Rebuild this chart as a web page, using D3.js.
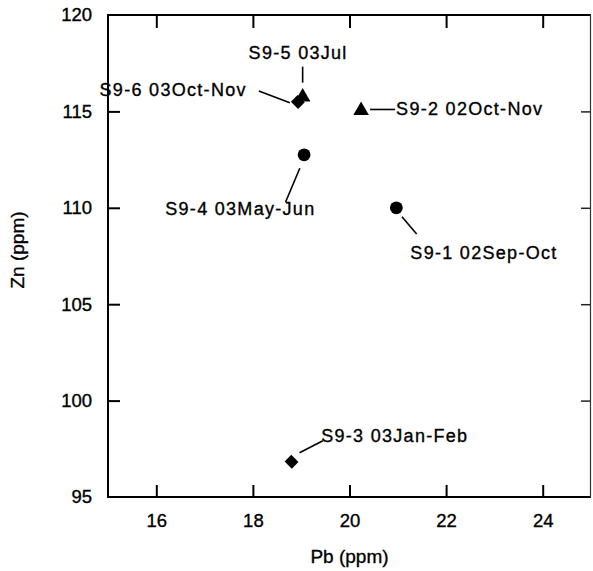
<!DOCTYPE html>
<html>
<head>
<meta charset="utf-8">
<script src="https://cdn.jsdelivr.net/npm/d3@7"></script>
<style>
  html, body { margin: 0; padding: 0; background: #fff; }
  svg { display: block; }
  text { font-family: "Liberation Sans", Arial, Helvetica, sans-serif; fill: #000; stroke: #000; stroke-width: 0.35px; }
</style>
</head>
<body>
<svg id="chart" width="593" height="571"></svg>
<script>
// ---- data ----
const samples = ["S9-1 02Sep-Oct", "S9-2 02Oct-Nov", "S9-3 03Jan-Feb", "S9-4 03May-Jun", "S9-5 03Jul", "S9-6 03Oct-Nov"];
const pb = [20.97, 20.24, 18.80, 19.06, 19.03, 18.93];
const zn = [110.0, 115.1, 96.83, 112.75, 115.8, 115.49];
const shapes = ["circle", "triangle", "diamond", "circle", "triangle", "diamond"];
const xTicks = [16, 18, 20, 22, 24];
const yTicks = [95, 100, 105, 110, 115, 120];

// ---- annotation layout (offsets from the point, px) ----
const labelLayout = [
  { line: [5.6, 8.9, 20.3, 26.2], tx: 14, ty: 51.5, anchor: "start" },
  { line: [9, 0, 34, 0], tx: 35, ty: 5.5, anchor: "start" },
  { line: [8, -9, 31.3, -21], tx: 29.6, ty: -20, anchor: "start" },
  { line: [-4.3, 13.5, -18.6, 47.5], tx: 11.4, ty: 60.6, anchor: "end" },
  { line: [0, -29.3, 0, -13.3], tx: -4.5, ty: -36.7, anchor: "middle" },
  { line: [-39, -11, -8, 0.7], tx: -51, ty: -6.3, anchor: "end" }
];

const svg = d3.select("#chart");
const x = d3.scaleLinear().domain([15, 25]).range([108, 591]);
const y = d3.scaleLinear().domain([95, 120]).range([497, 15]);

// axes
const gx = svg.append("g").attr("transform", `translate(0,${y(95)})`)
  .call(d3.axisBottom(x).tickValues(xTicks).tickSize(-12).tickPadding(17).tickSizeOuter(0));
const gy = svg.append("g").attr("transform", `translate(${x(15)},0)`)
  .call(d3.axisLeft(y).tickValues(yTicks).tickSize(-12).tickPadding(16).tickSizeOuter(0));
[gx, gy].forEach(g => {
  g.select(".domain").remove();
  g.selectAll(".tick line").attr("stroke", "#000").attr("stroke-width", 2);
  g.selectAll(".tick text").style("font-size", "18.5px").attr("fill", "#000");
});
gy.selectAll(".tick").filter(d => d === 95 || d === 120).select("line").remove();

// top & right ticks
const gt = svg.append("g").attr("transform", `translate(0,${y(120)})`)
  .call(d3.axisTop(x).tickValues(xTicks).tickSize(-13).tickFormat("").tickSizeOuter(0));
gt.select(".domain").remove();
gt.selectAll(".tick line").attr("stroke", "#000").attr("stroke-width", 2);
const gr = svg.append("g").attr("transform", `translate(${x(25)},0)`)
  .call(d3.axisRight(y).tickValues(yTicks.slice(1, -1)).tickSize(-10).tickFormat("").tickSizeOuter(0));
gr.select(".domain").remove();
gr.selectAll(".tick line").attr("stroke", "#222").attr("stroke-width", 1.5);

// frame
svg.append("line").attr("x1", x(15)).attr("x2", x(25)).attr("y1", y(120)).attr("y2", y(120)).attr("stroke", "#000").attr("stroke-width", 2);
svg.append("line").attr("x1", x(15)).attr("x2", x(25)).attr("y1", y(95)).attr("y2", y(95)).attr("stroke", "#000").attr("stroke-width", 2);
svg.append("line").attr("x1", x(15)).attr("x2", x(15)).attr("y1", y(120) - 1).attr("y2", y(95) + 1).attr("stroke", "#000").attr("stroke-width", 2);
svg.append("line").attr("x1", x(25) - 0.5).attr("x2", x(25) - 0.5).attr("y1", y(120)).attr("y2", y(95)).attr("stroke", "#333").attr("stroke-width", 1.2);

// axis titles
svg.append("text").attr("x", (x(15) + x(25)) / 2).attr("y", 563).attr("text-anchor", "middle")
  .style("font-size", "19px").text("Pb (ppm)");
svg.append("text").attr("transform", "translate(24,250) rotate(-90)").attr("text-anchor", "middle")
  .style("font-size", "19px").text("Zn (ppm)");

// markers
const pts = samples.map((s, i) => ({ s, px: x(pb[i]), py: y(zn[i]), shape: shapes[i], lay: labelLayout[i] }));

const g = svg.append("g");
pts.forEach(p => {
  let path;
  if (p.shape === "circle") {
    g.append("circle").attr("cx", p.px).attr("cy", p.py).attr("r", 6.4).attr("fill", "#000");
  } else if (p.shape === "triangle") {
    path = d3.symbol().type(d3.symbolTriangle).size(105)();
    g.append("path").attr("d", path).attr("transform", `translate(${p.px},${p.py + 1})`).attr("fill", "#000");
  } else {
    path = d3.symbol().type(d3.symbolSquare).size(96)();
    g.append("path").attr("d", path).attr("transform", `translate(${p.px},${p.py}) rotate(45) scale(1.04,0.96)`).attr("fill", "#000");
  }
  const L = p.lay.line;
  g.append("line").attr("x1", p.px + L[0]).attr("y1", p.py + L[1]).attr("x2", p.px + L[2]).attr("y2", p.py + L[3])
    .attr("stroke", "#000").attr("stroke-width", 1.6);
  g.append("text").attr("x", p.px + p.lay.tx).attr("y", p.py + p.lay.ty).attr("text-anchor", p.lay.anchor)
    .style("font-size", "18px").style("letter-spacing", "1.3px").text(p.s);
});
</script>
</body>
</html>
